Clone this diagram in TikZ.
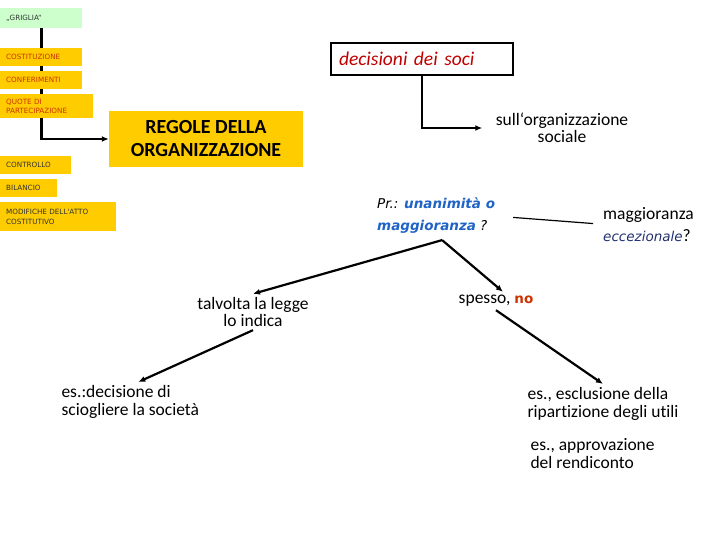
\documentclass[tikz,border=0pt]{standalone}
\usepackage{fontspec}
\setmainfont{Carlito}[Ligatures=CommonOff]
\newfontfamily\verdana{DejaVu Sans}
\usetikzlibrary{arrows.meta,backgrounds}

\definecolor{oro}{HTML}{FFCC00}
\definecolor{menta}{HTML}{CCFFCC}
\definecolor{rosso}{HTML}{CC3300}
\definecolor{rossoscuro}{HTML}{C00000}
\definecolor{blu}{HTML}{1F63C6}
\definecolor{blunotte}{HTML}{1F2F70}
\definecolor{grigio}{HTML}{333333}

\begin{document}
\begin{tikzpicture}[x=1pt, y=-1pt, >={Latex[length=7pt,width=6pt]},
  freccia/.style={->, line width=2.2pt},
  voce/.style={fill=oro, anchor=north west, inner xsep=6pt, inner ysep=0pt, align=left,
    text width=#1, minimum height=18pt, font=\verdana\fontsize{7.2}{8.5}\selectfont},
  testo/.style={align=center, font=\fontsize{17.5}{17}\selectfont},
  sinistra/.style={anchor=north west, align=left, font=\fontsize{17.5}{18}\selectfont}]
  \useasboundingbox (0,0) rectangle (720,540);

  % Colonna delle voci a sinistra
  \node[voce=70pt, fill=menta, minimum height=20pt, text=grigio] (griglia) at (0,8) {„GRIGLIA“};
  \node[voce=70pt, text=rosso] (costituzione) at (0,48) {COSTITUZIONE};
  \node[voce=70pt, text=rosso] (conferimenti) at (0,71) {CONFERIMENTI};
  \node[voce=81pt, text=rosso, minimum height=24pt] (quote) at (0,94) {QUOTE DI\\PARTECIPAZIONE};
  \node[voce=59pt, text=grigio] (controllo) at (0,156) {CONTROLLO};
  \node[voce=45pt, text=grigio] (bilancio) at (0,179) {BILANCIO};
  \node[voce=104pt, text=grigio, minimum height=29pt, font=\verdana\fontsize{7.2}{10.5}\selectfont]
    (modifiche) at (0,202) {MODIFICHE DELL'ATTO\\COSTITUTIVO};

  % Riquadro centrale
  \node[fill=oro, minimum width=194pt, minimum height=56pt, align=center,
    font=\bfseries\fontsize{20}{23}\selectfont] (regole) at (206,139) {REGOLE DELLA\\ORGANIZZAZIONE};

  \begin{pgfonlayer}{background}
    \draw[freccia, line width=2.6pt] (griglia.south) |- (regole.west);
  \end{pgfonlayer}

  % Decisioni dei soci
  \node[draw, line width=1.2pt, minimum width=182pt, minimum height=32pt, inner xsep=8pt,
    text width=166pt, align=left, text=rossoscuro, font=\itshape\fontsize{19.5}{20}\selectfont]
    (decisioni) at (422,59) {decisioni dei soci};
  \node[testo] (sull) at (562,128) {sull‘organizzazione\\sociale};
  \draw[freccia] (decisioni.south) |- ([xshift=-10pt]sull.west);

  % Unanimita' o maggioranza
  \node[anchor=north west, align=left, inner sep=0pt, font=\verdana\itshape\fontsize{13.5}{22}\selectfont]
    (pr) at (377,198) {Pr.: \textcolor{blu}{\bfseries unanimità o}\\\textcolor{blu}{\bfseries maggioranza} ?};
  \node[sinistra, inner sep=0pt, font=\fontsize{17.5}{22}\selectfont] (magg) at (603,207)
    {maggioranza\\{\verdana\itshape\fontsize{13.5}{22}\selectfont\textcolor{blunotte}{eccezionale}}?};
  \draw[line width=1.2pt, shorten <=18pt, shorten >=10pt] (pr.east) -- (magg.west);

  \coordinate (vertice) at ([shift={(6,6)}]pr.south);
  \node[testo] (talvolta) at (253,312) {talvolta la legge\\lo indica};
  \node[testo] (spesso) at (496,301) {spesso, {\verdana\bfseries\fontsize{13.5}{17}\selectfont\textcolor{rosso}{no}}};
  \draw[freccia] (vertice) -- (talvolta.north);
  \draw[freccia] (vertice) -- ([xshift=7pt]spesso.north);

  % Esempi
  \node[sinistra] (sciogliere) at (58,382) {es.:decisione di\\sciogliere la società};
  \node[sinistra] (esclusione) at (524,384) {es., esclusione della\\ripartizione degli utili};
  \node[sinistra] (approvazione) at (527,435) {es., approvazione\\del rendiconto};
  \draw[freccia] (talvolta.south) -- ([xshift=8pt]sciogliere.north);
  \draw[freccia] (spesso.south) -- (esclusione.north);
\end{tikzpicture}
\end{document}
